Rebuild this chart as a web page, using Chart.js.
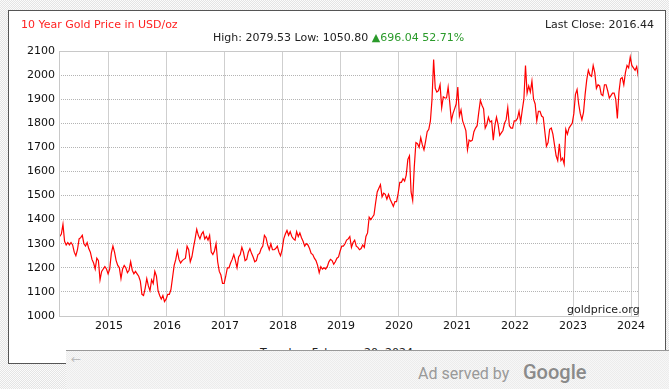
<!DOCTYPE html>
<html>
<head>
<meta charset="utf-8">
<title>10 Year Gold Price</title>
<script src="https://cdn.jsdelivr.net/npm/chart.js@4.4.1/dist/chart.umd.min.js"></script>
<style>
  html, body { margin: 0; padding: 0; }
  body {
    width: 669px; height: 389px; overflow: hidden; position: relative;
    background-color: #f2f2f2;
    background-image: repeating-conic-gradient(#e4e4e4 0 25%, #fbfbfb 0 50%);
    background-size: 2px 2px;
    font-family: "DejaVu Sans", Verdana, sans-serif;
  }
  #box {
    position: absolute; left: 8px; top: 10px; width: 656px; height: 352px;
    background: #fff; border: 1px solid #555;
  }
  #goldChart { position: absolute; left: 0; top: 0; }
  .lbl { position: absolute; font-size: 11px; line-height: 13px; white-space: nowrap; color: #222; }
  #title { left: 21px; top: 18px; color: #f22; }
  #lastClose { right: 15px; top: 18px; }
  #stats { left: 213px; top: 31px; }
  #stats .up { color: #2a9a2a; }
  #source { left: 567px; top: 303px; }
  #dateLine { left: 260px; top: 346px; }
  #ad {
    position: absolute; left: 66px; top: 350px; right: 0; bottom: 0;
    background-color: #f1f1f1;
    background-image: repeating-conic-gradient(#ececec 0 25%, #f7f7f7 0 50%);
    background-size: 2px 2px;
    border-top: 1px solid #999;
  }
  #ad .arrow { position: absolute; left: 5px; top: 1px; font-size: 12px; color: #bbb; }
  #ad .served { position: absolute; left: 352px; top: 13px; font-size: 16px; color: #999; font-family: Roboto, "DejaVu Sans", sans-serif; }
  #ad .google { position: absolute; left: 457px; top: 9px; font-size: 20px; color: #8a8a8a; font-weight: 500; font-family: Roboto, "DejaVu Sans", sans-serif; }
</style>
</head>
<body>
<div id="box"></div>
<div class="lbl" id="dateLine">Tuesday, February 20, 2024</div>
<canvas id="goldChart" width="669" height="389"></canvas>
<div class="lbl" id="title">10 Year Gold Price in USD/oz</div>
<div class="lbl" id="lastClose">Last Close: 2016.44</div>
<div class="lbl" id="stats">High: 2079.53 Low: 1050.80 <span class="up">&#9650;696.04 52.71%</span></div>
<div class="lbl" id="source">goldprice.org</div>
<div id="ad">
  <span class="arrow">&#8592;</span>
  <span class="served">Ad served by</span>
  <span class="google">Google</span>
</div>

<script>
// ==================== DATOS ====================
// Precio del oro (USD/oz), 3 lecturas por mes (dias ~5, 15, 25).
const p2014 = [null, null, null, null, null, 1330,
  1340, 1380, 1310, 1295, 1305, 1295, 1305, 1295, 1265, 1250, 1275, 1320,
  1325, 1335, 1300, 1290, 1305, 1280, 1265, 1235, 1220, 1195, 1240, 1230,
  1150, 1185, 1195, 1205, 1195, 1175];
const p2015 = [1195, 1260, 1290, 1265, 1230, 1210, 1200, 1155, 1195, 1210, 1200, 1180,
  1190, 1225, 1190, 1175, 1185, 1175, 1165, 1145, 1090, 1085, 1115, 1155,
  1125, 1105, 1150, 1135, 1185, 1165, 1105, 1085, 1070, 1085, 1060, 1070];
const p2016 = [1090, 1090, 1110, 1160, 1210, 1235, 1270, 1235, 1220, 1230, 1235, 1240,
  1290, 1275, 1225, 1245, 1285, 1320, 1360, 1335, 1320, 1340, 1350, 1320,
  1330, 1315, 1335, 1265, 1255, 1270, 1300, 1225, 1185, 1170, 1135, 1135];
const p2017 = [1165, 1200, 1200, 1220, 1235, 1255, 1230, 1200, 1245, 1255, 1285, 1265,
  1230, 1235, 1265, 1280, 1260, 1245, 1225, 1230, 1255, 1260, 1280, 1290,
  1335, 1325, 1295, 1275, 1300, 1275, 1275, 1280, 1290, 1265, 1250, 1275];
const p2018 = [1320, 1340, 1355, 1335, 1350, 1330, 1320, 1315, 1350, 1330, 1345, 1325,
  1310, 1290, 1300, 1295, 1280, 1260, 1255, 1240, 1230, 1210, 1180, 1205,
  1195, 1200, 1195, 1205, 1225, 1235, 1230, 1215, 1225, 1240, 1245, 1270];
const p2019 = [1290, 1290, 1300, 1315, 1320, 1330, 1285, 1305, 1315, 1290, 1285, 1275,
  1280, 1295, 1285, 1330, 1345, 1410, 1400, 1410, 1420, 1470, 1515, 1530,
  1545, 1495, 1510, 1505, 1485, 1505, 1485, 1470, 1455, 1475, 1475, 1510];
const p2020 = [1555, 1555, 1570, 1560, 1585, 1650, 1665, 1515, 1480, 1620, 1720, 1715,
  1700, 1740, 1710, 1690, 1725, 1765, 1775, 1810, 1900, 2065, 1945, 1930,
  1935, 1960, 1865, 1910, 1905, 1905, 1950, 1885, 1810, 1840, 1860, 1880];
const p2021 = [1950, 1830, 1855, 1810, 1790, 1770, 1690, 1730, 1725, 1730, 1765, 1780,
  1790, 1845, 1895, 1875, 1860, 1780, 1795, 1825, 1805, 1810, 1730, 1790,
  1825, 1795, 1750, 1760, 1770, 1800, 1815, 1865, 1790, 1780, 1780, 1810];
const p2022 = [1810, 1820, 1850, 1805, 1855, 1900, 2040, 1925, 1955, 1930, 1975, 1900,
  1880, 1810, 1850, 1850, 1830, 1825, 1765, 1705, 1720, 1775, 1780, 1755,
  1710, 1665, 1645, 1715, 1645, 1655, 1630, 1775, 1755, 1780, 1790, 1800];
const p2023 = [1840, 1920, 1940, 1880, 1840, 1815, 1845, 1920, 1980, 2020, 2000, 1995,
  2040, 2010, 1945, 1960, 1955, 1920, 1915, 1960, 1960, 1935, 1905, 1915,
  1925, 1925, 1900, 1820, 1930, 1985, 1990, 1960, 2010, 2040, 2030, 2075];
const p2024 = [2040, 2030, 2020, 2035, 1995];

const years = [2014, 2015, 2016, 2017, 2018, 2019, 2020, 2021, 2022, 2023, 2024];
const pricesByYear = [p2014, p2015, p2016, p2017, p2018, p2019, p2020, p2021, p2022, p2023, p2024];

const lastCloseDate = 2024.137;   // 20 feb 2024
const lastClose = 2016.44;

const yearTicks = [2015, 2016, 2017, 2018, 2019, 2020, 2021, 2022, 2023, 2024];
const xMin = 2014.14;
const xMax = 2024.137;
const yMin = 1000;
const yMax = 2100;

// ==================== PUNTOS ====================
const points = [];
years.forEach((yr, n) => {
    pricesByYear[n].forEach((v, i) => {
        if (v !== null) points.push({ x: yr + (i + 0.5) / 36, y: v });
    });
});
points.push({ x: lastCloseDate, y: lastClose });

// Marco gris alrededor del area del grafico
const frame = {
    id: 'frame',
    afterDraw(chart) {
        const { ctx, chartArea: a } = chart;
        ctx.save();
        ctx.strokeStyle = '#c8c8c8';
        ctx.lineWidth = 1;
        ctx.strokeRect(a.left + 0.5, a.top + 0.5, a.right - a.left - 1, a.bottom - a.top);
        ctx.restore();
    }
};

new Chart(document.getElementById('goldChart'), {
    type: 'line',
    data: {
        datasets: [{
            data: points,
            borderColor: '#ff0000',
            borderWidth: 1.2,
            pointRadius: 0,
            tension: 0,
            fill: false
        }]
    },
    options: {
        responsive: false,
        animation: false,
        layout: { padding: { left: 0, top: 51, right: 30, bottom: 0 } },
        plugins: { legend: { display: false }, tooltip: { enabled: false } },
        scales: {
            x: {
                type: 'linear',
                min: xMin,
                max: xMax,
                afterBuildTicks: axis => { axis.ticks = yearTicks.map(v => ({ value: v })); },
                afterFit: axis => { axis.height = 73; },
                ticks: {
                    callback: v => String(v),
                    maxRotation: 0,
                    autoSkip: false,
                    padding: 4,
                    color: '#111',
                    font: { family: 'DejaVu Sans', size: 11 }
                },
                grid: { color: '#cfcfcf', drawTicks: false },
                border: { display: false }
            },
            y: {
                min: yMin,
                max: yMax,
                afterFit: axis => { axis.width = 59; },
                ticks: {
                    stepSize: 100,
                    callback: v => v,
                    padding: 4,
                    color: '#111',
                    font: { family: 'DejaVu Sans', size: 11 }
                },
                grid: { color: '#b4b4b4', drawTicks: false },
                border: { display: false, dash: [1, 1] }
            }
        }
    },
    plugins: [frame]
});
</script>
</body>
</html>
